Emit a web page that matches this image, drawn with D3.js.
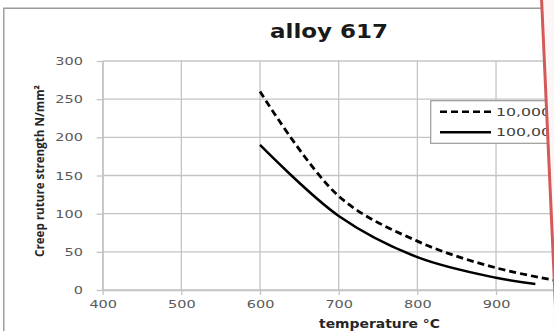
<!DOCTYPE html>
<html><head><meta charset="utf-8">
<script src="https://cdn.jsdelivr.net/npm/d3@7"></script>
<style>html,body{margin:0;padding:0;background:#fff;}svg{display:block;}</style>
</head><body>
<svg id="chart" width="554" height="331"></svg>
<script>
// ---- data ----
const title = "alloy 617";
const xLabel = "temperature °C";
const yLabel = "Creep ruture strength N/mm²";
const xTicks = [400, 500, 600, 700, 800, 900];
const yTicks = [0, 50, 100, 150, 200, 250, 300];
const temps10k = [600, 700, 800, 900, 1000];
const strength10k = [260, 123, 64, 29, 8];
const temps100k = [600, 700, 800, 900, 950];
const strength100k = [190, 97, 43, 16, 8];
const legendLabels = ["10,000 h", "100,000 h"];

const svg = d3.select("#chart");
const W = 554, H = 331;
const x = d3.scaleLinear().domain([400, 1000]).range([102.7, 574.7]);
const y = d3.scaleLinear().domain([0, 300]).range([290, 61]);

// clip region left of the red diagonal
const defs = svg.append("defs");
defs.append("clipPath").attr("id", "pageclip")
  .append("polygon").attr("points", "0,0 541.5,0 553.5,265 553.5,331 0,331");

svg.append("rect").attr("width", W).attr("height", H).attr("fill", "#fdf6f6");
const g = svg.append("g").attr("clip-path", "url(#pageclip)");
g.append("rect").attr("width", W).attr("height", H).attr("fill", "#ffffff");

// chart frame
g.append("path").attr("d", "M3.8,331 V8.3 H560").attr("fill", "none")
  .attr("stroke", "#9a9a9a").attr("stroke-width", 1.4);

// gridlines
const gridColor = "#c4c4c4";
g.append("g").selectAll("line").data(yTicks).join("line")
  .attr("x1", x(400)).attr("x2", 600)
  .attr("y1", d => y(d)).attr("y2", d => y(d))
  .attr("stroke", gridColor).attr("stroke-width", 1.3);
g.append("g").selectAll("line").data(xTicks.concat([1000])).join("line")
  .attr("x1", d => x(d)).attr("x2", d => x(d))
  .attr("y1", y(300)).attr("y2", y(0))
  .attr("stroke", gridColor).attr("stroke-width", 1.3);

// axes
const yAxis = g.append("g").attr("transform", `translate(${x(400)},0)`)
  .call(d3.axisLeft(y).tickValues(yTicks).tickSize(6).tickSizeOuter(0));
const xAxis = g.append("g").attr("transform", `translate(0,${y(0)})`)
  .call(d3.axisBottom(x).tickValues(xTicks).tickSize(5).tickSizeOuter(0));
[yAxis, xAxis].forEach(a => {
  a.select(".domain").attr("stroke", gridColor).attr("stroke-width", 1.3);
  a.selectAll(".tick line").attr("stroke", gridColor).attr("stroke-width", 1.3);
  a.selectAll(".tick text").attr("font-family", "DejaVu Sans").attr("font-size", 10)
    .attr("fill", "#595959");
});
yAxis.selectAll(".tick text").attr("x", 0).attr("dy", "0.35em")
  .attr("transform", "translate(-19.7,0) scale(1.45,1)");
xAxis.selectAll(".tick text").attr("y", 0).attr("dy", 0)
  .attr("transform", "translate(0,18.3) scale(1.45,1)");

// series
const line = d3.line().x(d => x(d[0])).y(d => y(d[1])).curve(d3.curveCatmullRom.alpha(0.5));
g.append("path").datum(d3.zip(temps10k, strength10k)).attr("d", line)
  .attr("fill", "none").attr("stroke", "#000").attr("stroke-width", 2.8)
  .attr("stroke-dasharray", "7,4");
g.append("path").datum(d3.zip(temps100k, strength100k)).attr("d", line)
  .attr("fill", "none").attr("stroke", "#000").attr("stroke-width", 2.5);

// legend
const lg = g.append("g");
lg.append("rect").attr("x", 430.7).attr("y", 100.7).attr("width", 140).attr("height", 42.6)
  .attr("fill", "#fff").attr("stroke", "#9a9a9a").attr("stroke-width", 1.2);
const legendY = [111.7, 132.3];
lg.selectAll("line.lk").data(legendLabels).join("line")
  .attr("x1", 440).attr("x2", 491).attr("y1", (d, i) => legendY[i]).attr("y2", (d, i) => legendY[i])
  .attr("stroke", "#000").attr("stroke-width", 2.5)
  .attr("stroke-dasharray", (d, i) => i === 0 ? "7,4" : null);
lg.selectAll("text").data(legendLabels).join("text")
  .attr("transform", (d, i) => `translate(496,${legendY[i] + 4}) scale(1.5,1)`)
  .attr("font-family", "DejaVu Sans").attr("font-size", 10.5).attr("fill", "#404040")
  .text(d => d);

// title and axis labels
g.append("text").attr("x", 270).attr("y", 37.5)
  .attr("font-family", "DejaVu Sans").attr("font-weight", "bold").attr("font-size", 19)
  .attr("fill", "#1a1a1a").attr("textLength", 118).attr("lengthAdjust", "spacingAndGlyphs")
  .text(title);
g.append("text").attr("x", 319).attr("y", 327.5)
  .attr("font-family", "DejaVu Sans").attr("font-weight", "bold").attr("font-size", 11.5)
  .attr("fill", "#262626").attr("textLength", 121).attr("lengthAdjust", "spacingAndGlyphs")
  .text(xLabel);
g.append("text").attr("transform", "translate(43.5,171) rotate(-90)")
  .attr("text-anchor", "middle")
  .attr("font-family", "Open Sans").attr("font-weight", "bold").attr("font-size", 12.5)
  .attr("fill", "#262626").attr("textLength", 172).attr("lengthAdjust", "spacingAndGlyphs")
  .text(yLabel);

// red diagonal
svg.append("line").attr("x1", 541.5).attr("y1", -2).attr("x2", 556).attr("y2", 318)
  .attr("stroke", "#d45a5a").attr("stroke-width", 3);
</script>
</body></html>
